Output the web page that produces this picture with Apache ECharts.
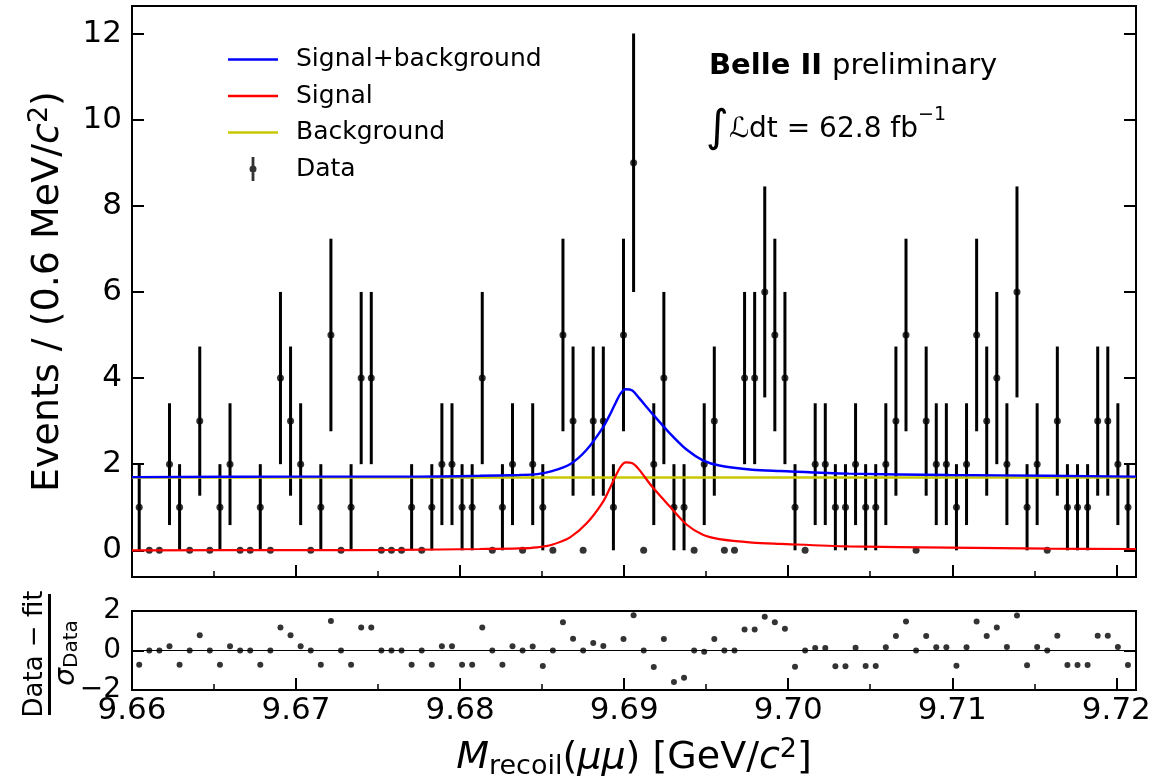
<!DOCTYPE html>
<html><head><meta charset="utf-8">
<script src="https://cdn.jsdelivr.net/npm/echarts@6/dist/echarts.min.js"></script>
<style>html,body{margin:0;padding:0;background:#fff}#chart{width:1160px;height:781px}</style>
</head><body><div id="chart"></div>
<script>
// ---- data ----
const binFirstCenter = 9.66044;   // GeV/c^2
const binWidth = 0.000615;        // GeV/c^2
const counts = [
  1,0,0,2,1,0,3,0,1,2,0,0,1,0,4,3,2,0,1,5,0,1,4,4,
  0,0,0,1,0,1,2,2,1,1,4,0,1,2,0,2,1,0,5,3,0,3,3,1,5,
  9,0,2,4,1,1,0,2,3,0,0,4,4,6,5,4,1,0,2,2,1,1,2,
  1,1,2,3,5,0,3,2,2,1,2,5,3,4,2,6,1,2,0,3,1,1,1,3,3,2,1
];
const pulls = [
  -0.72,0,0,0.22,-0.72,0,0.77,0,-0.72,0.22,0,0,-0.72,0,1.17,0.77,0.22,0,-0.72,1.5,0,-0.72,1.17,1.17,
  0,0,0,-0.72,0,-0.72,0.22,0.22,-0.72,-0.72,1.17,0,-0.72,0.22,0,0.2,-0.78,0,1.43,0.6,0,0.38,0.23,-2.3,0.58,
  1.78,0,-0.83,0.58,-1.6,-1.38,0,-0.06,0.58,0,0,1.06,1.06,1.71,1.43,1.1,-0.82,0,0.13,0.13,-0.8,-0.8,0.14,
  -0.78,-0.78,0.16,0.73,1.47,0,0.73,0.17,0.17,-0.77,0.17,1.47,0.74,1.17,0.18,1.77,-0.75,0.18,0,0.75,-0.74,-0.74,-0.74,0.75,0.75,0.18,-0.73
];
const curveX = [9.6600,9.6702,9.6763,9.6812,9.6836,9.6847,9.6856,9.6867,9.6877,9.6887,9.6892,9.6895,9.6898,
  9.6901,9.6905,9.6909,9.6917,9.6928,9.6938,9.6948,9.6958,9.6978,9.6995,9.7037,9.7098,9.7159,9.7212];
const totalFit = [1.70,1.71,1.71,1.73,1.75,1.77,1.84,2.00,2.33,2.85,3.20,3.44,3.65,
  3.74,3.71,3.54,3.18,2.71,2.34,2.09,1.97,1.87,1.84,1.78,1.75,1.73,1.71];
const signalFit = [0.00,0.005,0.01,0.03,0.045,0.07,0.13,0.30,0.62,1.12,1.50,1.74,1.95,
  2.04,2.02,1.88,1.48,1.01,0.60,0.36,0.26,0.18,0.15,0.09,0.06,0.04,0.03];
const bgX = [9.6600, 9.7212];
const bgFit = [1.69, 1.69];
const xTicks = [9.66,9.67,9.68,9.69,9.70,9.71,9.72];
const xMinorTicks = [9.665,9.675,9.685,9.695,9.705,9.715];
const yTicks = [0,2,4,6,8,10,12];
const pullTicks = [-2,0,2];

// ---- build ----
const binCenters = counts.map((c,i)=>binFirstCenter + i*binWidth);
const pts = counts.map((c,i)=>[binCenters[i], c]);
const bars = counts.map((c,i)=>[binCenters[i], c - Math.sqrt(c), c + Math.sqrt(c)]).filter(d=>d[2]>d[1]);
const pullPts = pulls.map((p,i)=>[binCenters[i], p]);
const zip = (xs, ys)=>xs.map((x,i)=>[x, ys[i]]);

const FONT = 'DejaVu Sans';
const XMIN = 9.66, XMAX = 9.7212;
const tickStyle = {color:'#000', width:2};
const fmtX = v => v.toFixed(2);
const fmtPull = v => v < 0 ? '\u2212' + (-v) : String(v);
const lineIcon = 'path://M0,0H50V2.6H0Z';

const chart = echarts.init(document.getElementById('chart'), null, {renderer:'canvas'});
const option = {
  animation:false,
  backgroundColor:'#fff',
  textStyle:{fontFamily:FONT},
  grid:[
    {left:132, right:24, top:6, height:571, show:true, borderColor:'#000', borderWidth:2, backgroundColor:'transparent'},
    {left:132, right:24, top:611, height:80, show:true, borderColor:'#000', borderWidth:2, backgroundColor:'transparent'}
  ],
  xAxis:[
    {gridIndex:0, type:'value', min:XMIN, max:XMAX, position:'bottom',
     axisLine:{show:false, onZero:false}, splitLine:{show:false},
     axisTick:{inside:true, length:12, lineStyle:tickStyle, customValues:xTicks},
     axisLabel:{show:false}},
    {gridIndex:0, type:'value', min:XMIN, max:XMAX, position:'bottom',
     axisLine:{show:false, onZero:false}, splitLine:{show:false},
     axisTick:{inside:true, length:6, lineStyle:{color:'#000', width:1.5}, customValues:xMinorTicks},
     axisLabel:{show:false}},
    {gridIndex:1, type:'value', min:XMIN, max:XMAX, position:'bottom',
     axisLine:{show:false, onZero:false}, splitLine:{show:false},
     axisTick:{inside:true, length:12, lineStyle:tickStyle, customValues:xTicks},
     axisLabel:{show:true, customValues:xTicks, formatter:fmtX, fontSize:31, color:'#000', fontFamily:FONT, margin:5},
     name:'{it|M}{sub|recoil}{n|(}{it|\u03bc\u03bc}{n|) [GeV/}{it|c}{sup|2}{n|]}',
     nameLocation:'middle', nameGap:46,
     nameTextStyle:{fontFamily:FONT, color:'#000',
       rich:{
         n:{fontSize:38, lineHeight:44, verticalAlign:'middle', fontFamily:FONT, color:'#000'},
         it:{fontSize:38, lineHeight:44, fontStyle:'italic', verticalAlign:'middle', fontFamily:FONT, color:'#000'},
         sub:{fontSize:27, lineHeight:20, verticalAlign:'bottom', fontFamily:FONT, color:'#000'},
         sup:{fontSize:27, lineHeight:20, verticalAlign:'top', fontFamily:FONT, color:'#000'}
       }}},
    {gridIndex:1, type:'value', min:XMIN, max:XMAX, position:'bottom',
     axisLine:{show:false, onZero:false}, splitLine:{show:false},
     axisTick:{inside:true, length:6, lineStyle:{color:'#000', width:1.5}, customValues:xMinorTicks},
     axisLabel:{show:false}}
  ],
  yAxis:[
    {gridIndex:0, type:'value', min:-0.62, max:12.64, position:'left',
     axisLine:{show:false, onZero:false}, splitLine:{show:false},
     axisTick:{inside:true, length:12, lineStyle:tickStyle, customValues:yTicks},
     axisLabel:{customValues:yTicks, fontSize:31, color:'#000', fontFamily:FONT, margin:10},
     name:'{n|Events / (0.6 MeV/}{it|c}{sup|2}{n|)}', nameLocation:'middle', nameRotate:90, nameGap:62,
     nameTextStyle:{fontFamily:FONT, color:'#000',
       rich:{
         n:{fontSize:38, lineHeight:44, verticalAlign:'middle', fontFamily:FONT, color:'#000'},
         it:{fontSize:38, lineHeight:44, fontStyle:'italic', verticalAlign:'middle', fontFamily:FONT, color:'#000'},
         sup:{fontSize:27, lineHeight:20, verticalAlign:'top', fontFamily:FONT, color:'#000'}
       }}},
    {gridIndex:0, type:'value', min:-0.62, max:12.64, position:'right',
     axisLine:{show:false, onZero:false}, splitLine:{show:false},
     axisTick:{inside:true, length:12, lineStyle:tickStyle, customValues:yTicks},
     axisLabel:{show:false}},
    {gridIndex:1, type:'value', min:-2, max:2, position:'left',
     axisLine:{show:false, onZero:false}, splitLine:{show:false},
     axisTick:{inside:true, length:12, lineStyle:tickStyle, customValues:pullTicks},
     axisLabel:{customValues:pullTicks, formatter:fmtPull, fontSize:28, color:'#000', fontFamily:FONT, margin:11}},
    {gridIndex:1, type:'value', min:-2, max:2, position:'right',
     axisLine:{show:false, onZero:false}, splitLine:{show:false},
     axisTick:{inside:true, length:12, lineStyle:tickStyle, customValues:[0]},
     axisLabel:{show:false}}
  ],
  legend:{
    left:223, top:42, orient:'vertical', itemWidth:50, itemHeight:24, itemGap:11.5,
    selectedMode:false,
    textStyle:{fontFamily:FONT, fontSize:25, color:'#000', lineHeight:24, padding:[0,0,0,13]},
    data:[
      {name:'Signal+background', icon:lineIcon},
      {name:'Signal', icon:lineIcon},
      {name:'Background', icon:lineIcon},
      {name:'Data', icon:'path://M23.6,0H26.4V24H23.6Z M21.5,12A3.5,3.5 0 1,1 28.5,12A3.5,3.5 0 1,1 21.5,12Z'}
    ]
  },
  graphic:[
    {type:'text', x:709, y:66, z:100,
     style:{text:'{b|Belle II }{n|preliminary}', verticalAlign:'middle', textVerticalAlign:'middle', fill:'#000',
       rich:{b:{fontSize:29, fontWeight:'bold', fontFamily:FONT, fill:'#000'}, n:{fontSize:29, fontFamily:FONT, fill:'#000'}}}},
    {type:'text', x:706, y:130, z:100,
     style:{text:'{int|\u222b}{cal|\u2112}{n|dt = 62.8 fb}{sup|\u22121}', verticalAlign:'middle', textVerticalAlign:'middle', fill:'#000',
       rich:{int:{fontSize:44, lineHeight:48, fontFamily:FONT, fill:'#000', verticalAlign:'middle'},
             cal:{fontSize:28, lineHeight:48, fontStyle:'italic', fontFamily:FONT, fill:'#000', verticalAlign:'middle'},
             n:{fontSize:28, lineHeight:48, fontFamily:FONT, fill:'#000', verticalAlign:'middle'},
             sup:{fontSize:19, lineHeight:30, fontFamily:FONT, fill:'#000', verticalAlign:'top'}}}},
    {type:'text', x:35, y:654, rotation:Math.PI/2, z:100,
     style:{text:'Data \u2212 fit', align:'center', textAlign:'center', verticalAlign:'middle', textVerticalAlign:'middle',
       fontSize:26, fontFamily:FONT, fill:'#000'}},
    {type:'rect', shape:{x:48, y:594, width:3, height:121}, style:{fill:'#000'}, z:100},
    {type:'text', x:67, y:653, rotation:Math.PI/2, z:100,
     style:{text:'{it|\u03c3}{sub|Data}', align:'center', textAlign:'center', verticalAlign:'middle', textVerticalAlign:'middle', fill:'#000',
       rich:{it:{fontSize:28, lineHeight:30, fontStyle:'italic', fontFamily:FONT, fill:'#000', verticalAlign:'middle'},
             sub:{fontSize:20, lineHeight:18, fontFamily:FONT, fill:'#000', verticalAlign:'bottom'}}}}
  ],
  series:[
    {name:'Data', type:'scatter', xAxisIndex:0, yAxisIndex:0, data:pts, symbol:'circle', symbolSize:7,
     itemStyle:{color:'#000'}, z:3, silent:true},
    {type:'custom', xAxisIndex:0, yAxisIndex:0, data:bars, z:2, silent:true,
     renderItem:(params, api)=>{
       const a = api.coord([api.value(0), api.value(1)]);
       const b = api.coord([api.value(0), api.value(2)]);
       return {type:'line', shape:{x1:a[0], y1:a[1], x2:b[0], y2:b[1]}, style:{stroke:'#000', lineWidth:3}};
     }},
    {name:'Background', type:'line', xAxisIndex:0, yAxisIndex:0, data:zip(bgX,bgFit), symbol:'none', showSymbol:false,
     lineStyle:{color:'#c8c800', width:2.6}, itemStyle:{color:'#c8c800'}, z:4, silent:true},
    {name:'Signal', type:'line', xAxisIndex:0, yAxisIndex:0, data:zip(curveX,signalFit), symbol:'none', showSymbol:false, smooth:0.3,
     lineStyle:{color:'#ff0000', width:2.2}, itemStyle:{color:'#ff0000'}, z:5, silent:true},
    {name:'Signal+background', type:'line', xAxisIndex:0, yAxisIndex:0, data:zip(curveX,totalFit), symbol:'none', showSymbol:false, smooth:0.3,
     lineStyle:{color:'#0000ff', width:2.4}, itemStyle:{color:'#0000ff'}, z:6, silent:true},
    {type:'scatter', xAxisIndex:2, yAxisIndex:2, data:pullPts, symbol:'circle', symbolSize:6, clip:true,
     itemStyle:{color:'#000'}, z:3, silent:true,
     markLine:{silent:true, symbol:'none', label:{show:false}, animation:false,
       lineStyle:{color:'#000', width:1.2, type:'solid'}, data:[{yAxis:0}]}}
  ]
};
chart.setOption(option);
</script></body></html>
